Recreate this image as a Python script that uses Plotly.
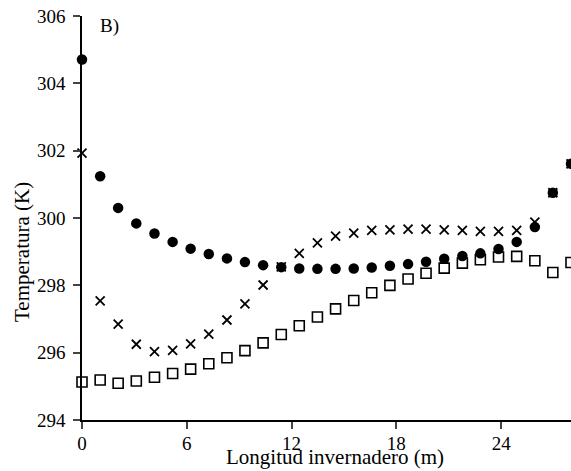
import plotly.graph_objects as go

longitud = [0, 1.04, 2.07, 3.11, 4.15, 5.19, 6.22, 7.26, 8.30, 9.33, 10.37, 11.41,
            12.44, 13.48, 14.52, 15.56, 16.59, 17.63, 18.67, 19.70, 20.74, 21.78,
            22.81, 23.85, 24.89, 25.93, 26.96, 28.0]

temp_circulos = [304.71, 301.24, 300.30, 299.84, 299.54, 299.29, 299.09, 298.93, 298.80,
                 298.69, 298.60, 298.54, 298.50, 298.49, 298.49, 298.50, 298.53, 298.58,
                 298.63, 298.70, 298.79, 298.87, 298.95, 299.08, 299.29, 299.73, 300.75, 301.61]

temp_cruces = [301.93, 297.54, 296.85, 296.25, 296.03, 296.07, 296.26, 296.55, 296.97,
               297.45, 298.01, 298.55, 298.95, 299.26, 299.46, 299.55, 299.63, 299.65,
               299.67, 299.67, 299.65, 299.63, 299.60, 299.60, 299.63, 299.88, 300.75, 301.61]

temp_cuadros = [295.13, 295.19, 295.09, 295.16, 295.27, 295.38, 295.51, 295.67, 295.85,
                296.06, 296.29, 296.54, 296.80, 297.06, 297.30, 297.55, 297.78, 298.00,
                298.19, 298.36, 298.51, 298.66, 298.76, 298.84, 298.86, 298.73, 298.38, 298.68]

x_ticks = [0, 6, 12, 18, 24]
y_ticks = [294, 296, 298, 300, 302, 304, 306]

FONT = "'Liberation Serif', 'Times New Roman', Times, serif"

# plot area spans x 82..571, y 16..420 in the window (body margin removed below)
W, H = 571, 471
ML, MT = 82, 16
MB = H - 420
PW, PH = W - ML, H - MT - MB

fig = go.Figure()
fig.add_trace(go.Scatter(x=longitud, y=temp_circulos, mode="markers", cliponaxis=False,
                         marker=dict(symbol="circle", size=10.5, color="black",
                                     line=dict(width=0))))
fig.add_trace(go.Scatter(x=longitud, y=temp_cruces, mode="markers", cliponaxis=False,
                         marker=dict(symbol="x-thin-open", size=9, color="black",
                                     line=dict(width=1.8, color="black"))))
fig.add_trace(go.Scatter(x=longitud, y=temp_cuadros, mode="markers", cliponaxis=False,
                         marker=dict(symbol="square-open", size=10, color="black",
                                     line=dict(width=1.6, color="black"))))

fig.update_layout(
    width=W, height=H,
    margin=dict(l=ML, r=0, t=MT, b=MB, autoexpand=False),
    paper_bgcolor="white", plot_bgcolor="white",
    showlegend=False,
    font=dict(family=FONT, size=18, color="black"),
    xaxis=dict(range=[0, 28], tickvals=x_ticks, ticks="outside", ticklen=7, tickwidth=1.5,
               showline=True, linecolor="black", linewidth=1.5, showgrid=False,
               zeroline=False, tickfont=dict(family=FONT, size=19, color="black"),
               ticklabelstandoff=-2, ticklabeloverflow="allow", automargin=False),
    yaxis=dict(range=[294, 306], tickvals=y_ticks, ticks="outside", ticklen=7, tickwidth=1.5,
               showline=True, linecolor="black", linewidth=1.5, showgrid=False,
               zeroline=False, tickfont=dict(family=FONT, size=19, color="black"),
               ticklabelstandoff=4, ticklabeloverflow="allow", automargin=False),
    annotations=[
        dict(text="B)", xref="paper", yref="paper", x=(98 - 82) / PW, y=1 - (26 - 16) / PH,
             xanchor="left", yanchor="middle", showarrow=False,
             font=dict(family=FONT, size=19, color="black")),
        dict(text="Longitud invernadero (m)", xref="paper", yref="paper",
             x=(335 - 82) / PW, y=-(457 - 420) / PH, xanchor="center", yanchor="middle",
             showarrow=False, font=dict(family=FONT, size=21, color="black")),
        dict(text="Temperatura (K)", xref="paper", yref="paper",
             x=-(82 - 22) / PW, y=(420 - 252) / PH, xanchor="center", yanchor="middle",
             textangle=-90, showarrow=False, font=dict(family=FONT, size=21, color="black")),
    ],
)

fig.write_html(
    "out.html",
    config={"displayModeBar": False},
    post_script="document.body.style.margin='0';document.body.style.overflow='hidden';"
                "document.documentElement.style.overflow='hidden';",
)
